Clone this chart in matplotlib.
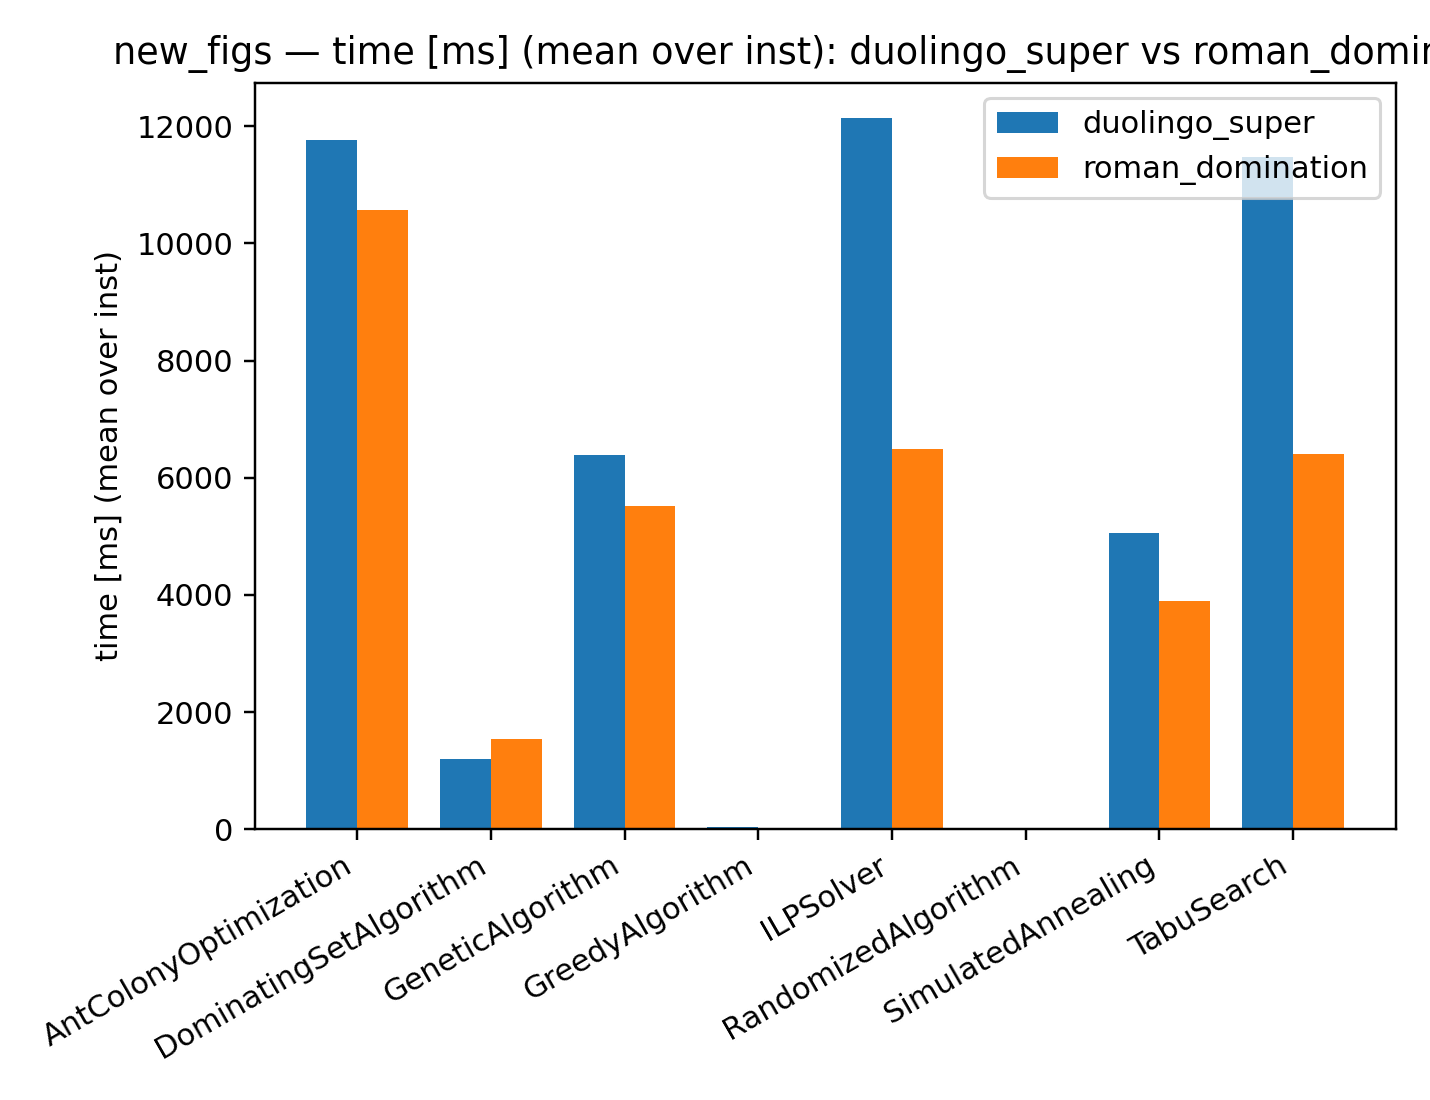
import numpy as np
import matplotlib
matplotlib.use("Agg")
import matplotlib.pyplot as plt

algorithms = ["AntColonyOptimization", "DominatingSetAlgorithm", "GeneticAlgorithm",
              "GreedyAlgorithm", "ILPSolver", "RandomizedAlgorithm",
              "SimulatedAnnealing", "TabuSearch"]
duolingo_super = [11760, 1195, 6384, 40, 12137, 3, 5053, 11471]
roman_domination = [10566, 1536, 5514, 5, 6487, 2, 3892, 6401]

fig, ax = plt.subplots(figsize=(6.5, 5))
x = np.arange(len(algorithms))
w = 0.38
ax.bar(x - w/2, duolingo_super, w, label="duolingo_super")
ax.bar(x + w/2, roman_domination, w, label="roman_domination")
ax.set_xticks(x)
ax.set_xticklabels(algorithms, rotation=30, ha="right")
ax.set_ylabel("time [ms] (mean over inst)")
# the reference title runs past the right edge too
ax.set_title("new_figs — time [ms] (mean over inst): duolingo_super vs roman_domination")
ax.legend(loc="upper right")
plt.subplots_adjust(left=0.178, right=0.976, top=0.925, bottom=0.246)
fig.savefig("out.png", dpi=220)
